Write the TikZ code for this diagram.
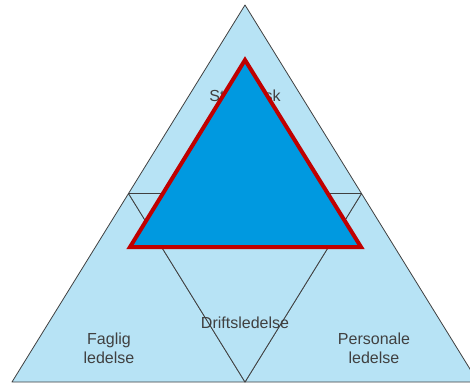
\documentclass[tikz,border=0pt]{standalone}
\usepackage{fontspec}
\setmainfont{Liberation Sans}
\definecolor{lightblue}{RGB}{183,227,245}
\definecolor{deepblue}{RGB}{0,153,224}
\definecolor{deepred}{RGB}{192,0,0}
\definecolor{textgray}{RGB}{64,64,64}
\tikzset{
    part/.style={fill=lightblue, draw=black!75, line width=0.8pt, line join=round},
    tag/.style={text=textgray, font=\fontsize{16}{19}\selectfont, align=center, inner sep=0pt}
}

\begin{document}
\begin{tikzpicture}[x=1pt,y=-1pt]
        \useasboundingbox (0,0) rectangle (470,383);

        \coordinate (apex) at (245,5);
        \coordinate (bl) at (12,382);
        \coordinate (br) at (478,382);
        \coordinate (ml) at (128.5,193.5);
        \coordinate (mr) at (361.5,193.5);
        \coordinate (mb) at (245,382);

        \filldraw[part] (apex) -- (ml) -- (mr) -- cycle;
        \filldraw[part] (ml) -- (bl) -- (mb) -- cycle;
        \filldraw[part] (mr) -- (mb) -- (br) -- cycle;
        \filldraw[part] (ml) -- (mr) -- (mb) -- cycle;

        \node[tag] (strat) at (245,97) {Strategisk};
        \node[tag] (fag) at (109,348) {Faglig\\ledelse};
        \node[tag] (drift) at (245,323) {Driftsledelse};
        \node[tag] (pers) at (374,348) {Personale\\ledelse};

        \filldraw[fill=deepblue, draw=deepred, line width=4pt] (245,60) -- (130,247) -- (361,247) -- cycle;
    \end{tikzpicture}
\end{document}
